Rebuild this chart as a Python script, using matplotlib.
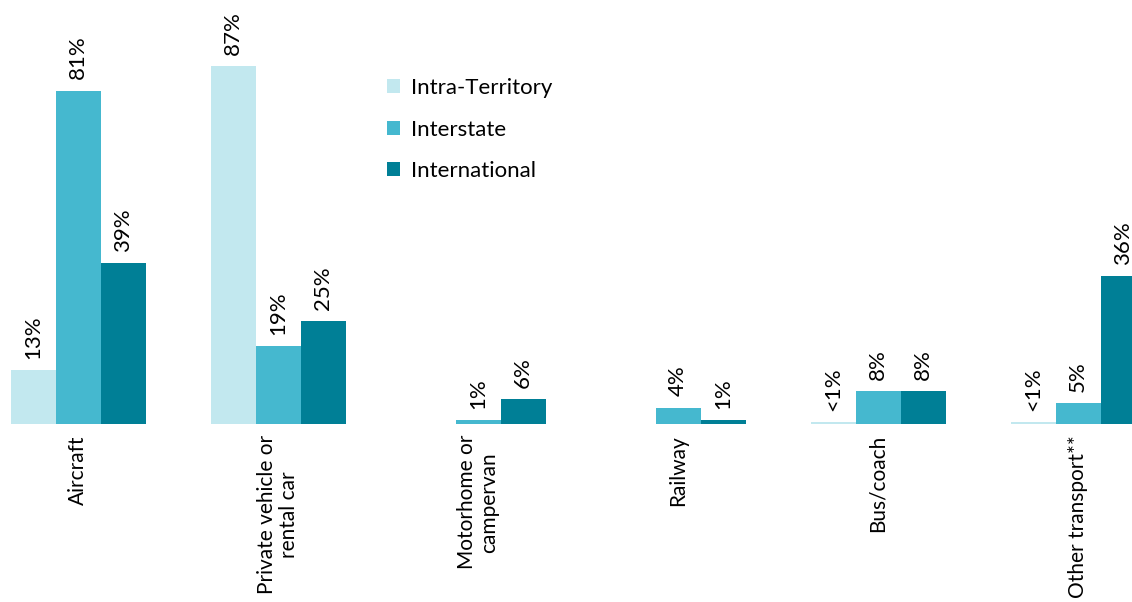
import matplotlib
matplotlib.use("Agg")
import matplotlib.pyplot as plt
import numpy as np

plt.rcParams['font.family'] = ['Lato', 'DejaVu Sans']

categories = ["Aircraft", "Private vehicle or\nrental car", "Motorhome or\ncampervan",
              "Railway", "Bus/coach", "Other transport**"]
series_names = ["Intra-Territory", "Interstate", "International"]
intra = [13, 87, 0, 0, 0.5, 0.5]
interstate = [81, 19, 1, 4, 8, 5]
international = [39, 25, 6, 1, 8, 36]
intra_labels = ["13%", "87%", "", "", "<1%", "<1%"]
interstate_labels = ["81%", "19%", "1%", "4%", "8%", "5%"]
international_labels = ["39%", "25%", "6%", "1%", "8%", "36%"]
colors = ["#C2E8EF", "#45B8CF", "#007F96"]

fig = plt.figure(figsize=(11.32, 6.02), dpi=100)
ax = fig.add_axes([0, 178/602, 1, 1 - 178/602])

x = np.arange(len(categories))
w = 0.225
data = [intra, interstate, international]
labels = [intra_labels, interstate_labels, international_labels]
for i, (vals, labs, c, name) in enumerate(zip(data, labels, colors, series_names)):
    xs = x + (i - 1) * w
    ax.bar(xs, vals, width=w, color=c, label=name)
    for xi, v, lab in zip(xs, vals, labs):
        if lab:
            ax.annotate(lab, (xi, v), xytext=(0, 8), textcoords="offset points",
                        rotation=90, ha="center", va="bottom", fontsize=16, color="#000000")

ax.set_xlim(-0.39, 5.27)
ax.set_ylim(0, 103)
ax.set_xticks(x)
ax.set_xticklabels(categories, rotation=90, ha="center", va="top",
                   multialignment="center", fontsize=15, linespacing=1.15)
ax.tick_params(axis="x", length=0, pad=8)
ax.set_yticks([])
for s in ax.spines.values():
    s.set_visible(False)

leg = ax.legend(loc="upper left", bbox_to_anchor=(367/1132, 1 - 58/424), frameon=False,
                fontsize=16, handlelength=0.6, handleheight=0.6, labelspacing=0.97,
                handletextpad=0.5)

fig.savefig("out.png", dpi=100)
